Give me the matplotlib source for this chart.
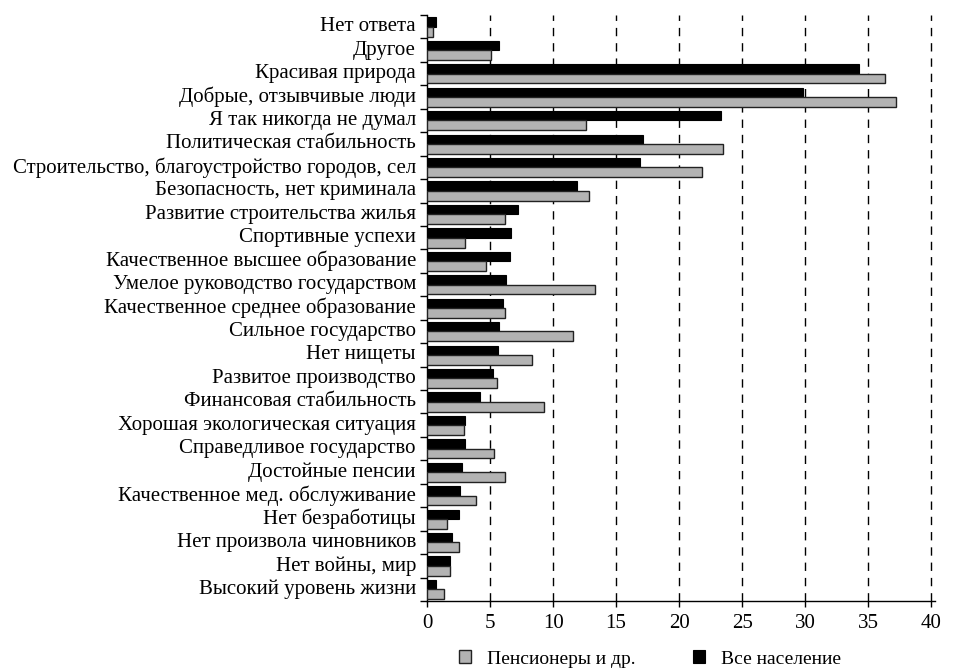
import matplotlib.pyplot as plt
import numpy as np

# categories from top to bottom
categories = [
    "Нет ответа",
    "Другое",
    "Красивая природа",
    "Добрые, отзывчивые люди",
    "Я так никогда не думал",
    "Политическая стабильность",
    "Строительство, благоустройство городов, сел",
    "Безопасность, нет криминала",
    "Развитие строительства жилья",
    "Спортивные успехи",
    "Качественное высшее образование",
    "Умелое руководство государством",
    "Качественное среднее образование",
    "Сильное государство",
    "Нет нищеты",
    "Развитое производство",
    "Финансовая стабильность",
    "Хорошая экологическая ситуация",
    "Справедливое государство",
    "Достойные пенсии",
    "Качественное мед. обслуживание",
    "Нет безработицы",
    "Нет произвола чиновников",
    "Нет войны, мир",
    "Высокий уровень жизни",
]

all_people = [0.75, 5.7, 34.3, 29.8, 23.3, 17.1, 16.9, 11.9, 7.2, 6.65, 6.55,
              6.25, 6.0, 5.7, 5.6, 5.25, 4.2, 3.0, 3.0, 2.8, 2.65, 2.55, 1.95,
              1.8, 0.75]
pensioners = [0.47, 5.1, 36.3, 37.2, 12.6, 23.5, 21.8, 12.85, 6.2, 3.05, 4.7,
              13.3, 6.2, 11.6, 8.35, 5.55, 9.3, 2.9, 5.35, 6.2, 3.9, 1.6, 2.55,
              1.8, 1.35]

plt.rcParams['font.family'] = ['Liberation Serif', 'DejaVu Serif']

fig = plt.figure(figsize=(9.55, 6.69), dpi=100)
ax = fig.add_axes([427 / 955, (669 - 601) / 669, (935 - 427) / 955, (601 - 15) / 669])

y = np.arange(len(categories))
ax.barh(y - 0.2, all_people, height=0.4, color='black', edgecolor='black',
        linewidth=0.8, label='Все население', zorder=3)
ax.barh(y + 0.21, pensioners, height=0.42, color='#b3b3b3', edgecolor='#222222',
        linewidth=1.0, label='Пенсионеры и др.', zorder=3)

ax.set_ylim(len(categories) - 0.5, -0.5)
ax.set_xlim(0, 40.3)

ax.set_yticks(y)
ax.set_yticklabels(categories, fontsize=15, va='center')
ax.tick_params(axis='y', which='major', length=0, pad=8)
ax.set_yticks(np.arange(len(categories) + 1) - 0.5, minor=True)
ax.tick_params(axis='y', which='minor', length=5, width=1)

ax.set_xticks(np.arange(0, 41, 5))
ax.tick_params(axis='x', labelsize=15, length=4, width=1, pad=5)

for v in range(5, 41, 5):
    ax.axvline(v, color='black', linestyle=(0, (6, 5)), linewidth=1, zorder=1)

for s in ['top', 'right']:
    ax.spines[s].set_visible(False)
ax.spines['left'].set_linewidth(1)
ax.spines['bottom'].set_linewidth(1)

handles, labels = ax.get_legend_handles_labels()
fig.legend(handles[::-1], labels[::-1], loc='center', bbox_to_anchor=(650 / 955, 1 - 659 / 669),
           ncol=2, frameon=False, fontsize=14, handlelength=0.6, handleheight=0.6,
           columnspacing=3.0, handletextpad=0.8)

fig.savefig('out.png', dpi=100)
